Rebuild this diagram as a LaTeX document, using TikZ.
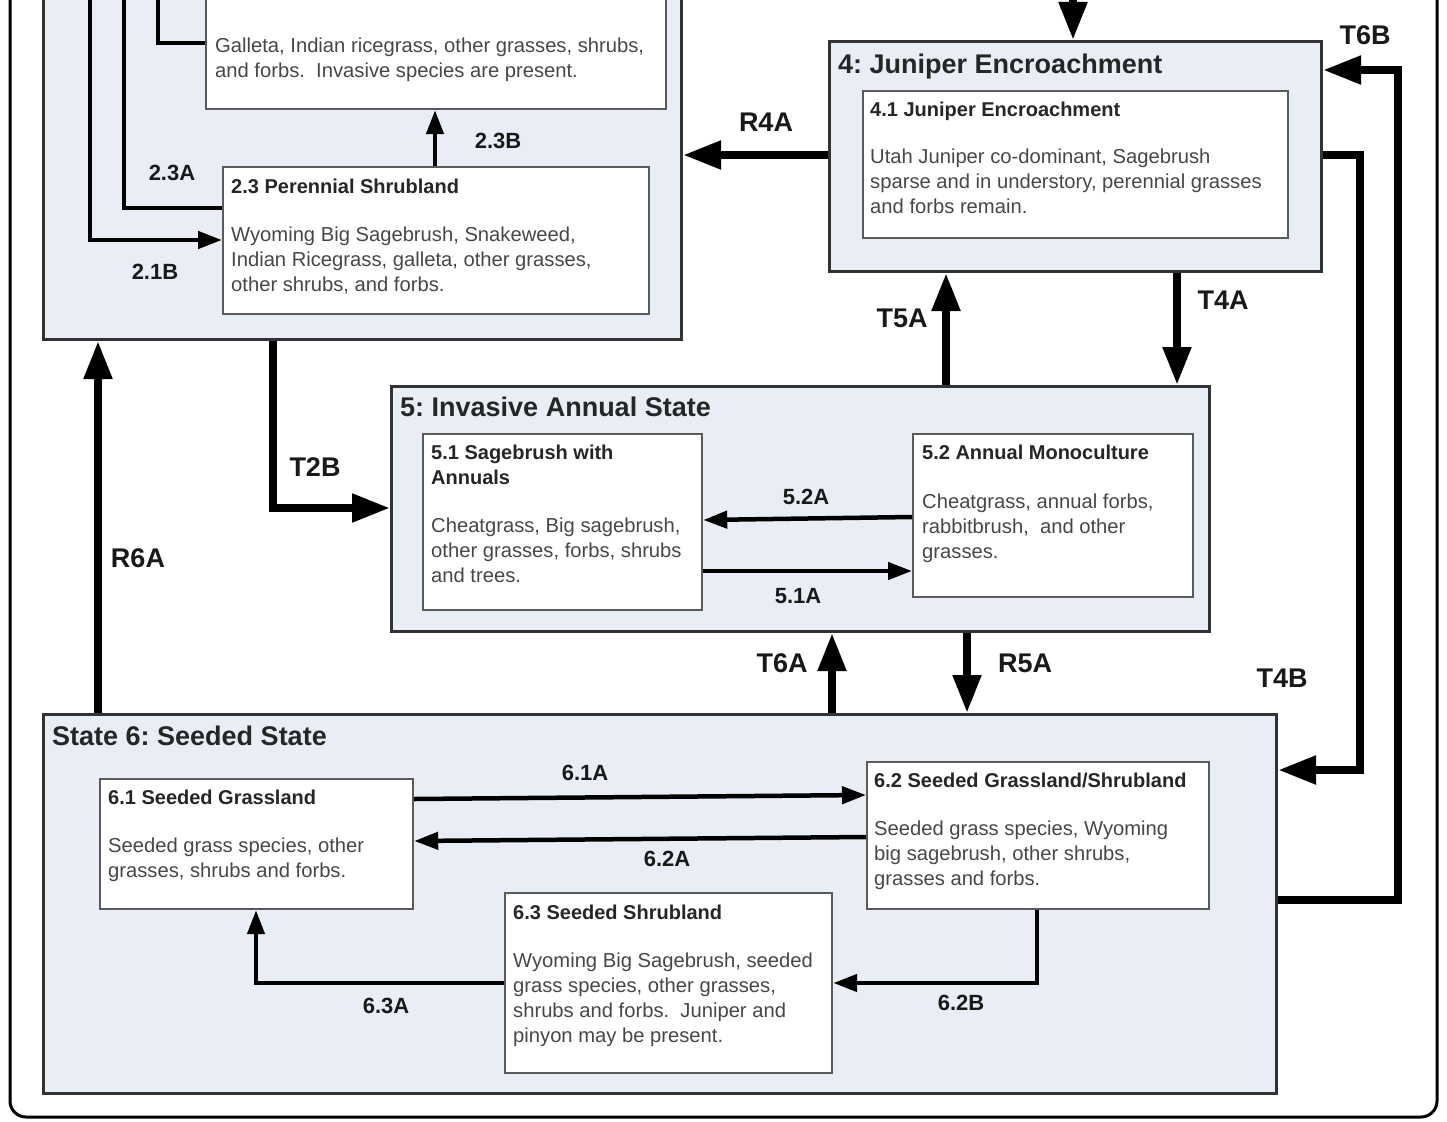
\documentclass[tikz,border=0pt]{standalone}
\usepackage{fontspec}
\setmainfont{Liberation Sans}
\usetikzlibrary{arrows.meta}
\definecolor{statefill}{HTML}{E9EEF6}
\definecolor{boxline}{HTML}{5A5A5A}
\definecolor{bodytext}{HTML}{474747}
\definecolor{titletext}{HTML}{262626}
\frenchspacing
\begin{document}
\begin{tikzpicture}[x=1pt,y=-1pt,
  statebox/.style={draw=black!80, line width=3pt, fill=statefill, inner sep=0, anchor=north west},
  itembox/.style={draw=boxline, line width=2.2pt, fill=white, inner sep=0, anchor=north west},
  heading/.style={anchor=north west, inner sep=0, text=titletext, font=\fontsize{27}{30}\selectfont\bfseries},
  boxtitle/.style={anchor=north west, inner sep=0, align=left, text=titletext, font=\fontsize{20}{25}\selectfont\bfseries},
  boxbody/.style={anchor=north west, inner sep=0, align=left, text=bodytext, font=\fontsize{20.2}{25}\selectfont},
  biglabel/.style={inner sep=0, text=black!90, font=\fontsize{27}{30}\selectfont\bfseries},
  smalllabel/.style={inner sep=0, text=black!90, font=\fontsize{22}{25}\selectfont\bfseries},
  bigarrow/.style={line width=8pt, -{Triangle[length=38pt,width=27pt]}},
  medarrow/.style={line width=4.5pt, -{Triangle[length=24pt,width=17pt]}},
  medline/.style={line width=4.5pt},
  frameline/.style={line width=3pt, rounded corners=16pt}
]
\useasboundingbox (0,0) rectangle (1447,1121);
\clip (0,0) rectangle (1447,1121);
\fill[white] (0,0) rectangle (1447,1121);

% outer frame
\coordinate (fa) at (10,-10);
\coordinate (fb) at (1437,-10);
\draw[frameline] (fa) -- (10,1117) -- (1437,1117) -- (fb);

% State 2 (partial)
\node[statebox, minimum width=638, minimum height=368] (s2) at (42,-30) {};
\node[itembox, minimum width=460, minimum height=138] (i2) at (205,-30) {};
\node[boxbody] (i2b) at (215,38) {Galleta, Indian ricegrass, other grasses, shrubs,\\and forbs.\ \ Invasive species are present.};
\node[itembox, minimum width=426, minimum height=147] (i23) at (222,166) {};
\node[boxtitle] (i23t) at (231,179) {2.3 Perennial Shrubland};
\node[boxbody] (i23b) at (231,227) {Wyoming Big Sagebrush, Snakeweed,\\Indian Ricegrass, galleta, other grasses,\\other shrubs, and forbs.};

% State 4
\node[statebox, minimum width=492, minimum height=230] (s4) at (828,40) {};
\node[heading] (s4h) at (838,54) {4: Juniper Encroachment};
\node[itembox, minimum width=425, minimum height=147] (i41) at (862,90) {};
\node[boxtitle] (i41t) at (870,102) {4.1 Juniper Encroachment};
\node[boxbody] (i41b) at (870,149) {Utah Juniper co-dominant, Sagebrush\\sparse and in understory, perennial grasses\\and forbs remain.};

% State 5
\node[statebox, minimum width=818, minimum height=245] (s5) at (390,385) {};
\node[heading] (s5h) at (400,397) {5: Invasive Annual State};
\node[itembox, minimum width=279, minimum height=176] (i51) at (422,433) {};
\node[boxtitle] (i51t) at (431,445) {5.1 Sagebrush with\\Annuals};
\node[boxbody] (i51b) at (431,518) {Cheatgrass, Big sagebrush,\\other grasses, forbs, shrubs\\and trees.};
\node[itembox, minimum width=280, minimum height=163] (i52) at (912,433) {};
\node[boxtitle] (i52t) at (922,445) {5.2 Annual Monoculture};
\node[boxbody] (i52b) at (922,494) {Cheatgrass, annual forbs,\\rabbitbrush,\ \ and other\\grasses.};

% State 6
\node[statebox, minimum width=1233, minimum height=379] (s6) at (42,713) {};
\node[heading] (s6h) at (52,726) {State 6: Seeded State};
\node[itembox, minimum width=313, minimum height=130] (i61) at (99,778) {};
\node[boxtitle] (i61t) at (108,790) {6.1 Seeded Grassland};
\node[boxbody] (i61b) at (108,838) {Seeded grass species, other\\grasses, shrubs and forbs.};
\node[itembox, minimum width=342, minimum height=147] (i62) at (866,761) {};
\node[boxtitle] (i62t) at (874,773) {6.2 Seeded Grassland/Shrubland};
\node[boxbody] (i62b) at (874,821) {Seeded grass species, Wyoming\\big sagebrush, other shrubs,\\grasses and forbs.};
\node[itembox, minimum width=327, minimum height=180] (i63) at (504,892) {};
\node[boxtitle] (i63t) at (513,905) {6.3 Seeded Shrubland};
\node[boxbody] (i63b) at (513,953) {Wyoming Big Sagebrush, seeded\\grass species, other grasses,\\shrubs and forbs.\ \ Juniper and\\pinyon may be present.};

% free ends at the top edge
\coordinate (topin) at (1073,-10);
\coordinate (c21) at (90,-10);
\coordinate (c23) at (124,-10);
\coordinate (cup) at (158,-10);

% big transitions
\draw[bigarrow] (topin) -- (s4.north -| 1073,0);
\draw[bigarrow] (s4.west |- 0,155) -- (s2.east |- 0,155);
\draw[bigarrow] (s6.east |- 0,900) -| (1398,70) -- (s4.east |- 0,70);
\draw[bigarrow] (s4.east |- 0,155) -| (1360,770) -- (s6.east |- 0,770);
\draw[bigarrow] (s4.south -| 1177,0) -- (s5.north -| 1177,0);
\draw[bigarrow] (s5.north -| 946,0) -- (s4.south -| 946,0);
\draw[bigarrow] (s2.south -| 273,0) |- (s5.west |- 0,508);
\draw[bigarrow] (s6.north -| 832,0) -- (s5.south -| 832,0);
\draw[bigarrow] (s5.south -| 967,0) -- (s6.north -| 967,0);
\draw[bigarrow] (s6.north -| 98,0) -- (s2.south -| 98,0);

% community pathways
\draw[medarrow] (i23.north -| 435,0) -- (i2.south -| 435,0);
\draw[medarrow] (c21) |- (i23.west |- 0,240);
\draw[medline] (i23.west |- 0,208) -| (c23);
\draw[medline] (i2.west |- 0,43) -| (cup);
\draw[medarrow] (i52.west |- 0,517) -- (i51.east |- 0,520);
\draw[medarrow] (i51.east |- 0,571) -- (i52.west |- 0,571);
\draw[medarrow] (i61.east |- 0,799) -- (i62.west |- 0,795);
\draw[medarrow] (i62.west |- 0,837) -- (i61.east |- 0,841);
\draw[medarrow] (i62.south -| 1037,0) |- (i63.east |- 0,983);
\draw[medarrow] (i63.west |- 0,983) -| (i61.south -| 256,0);

% labels
\node[biglabel] (lR4A) at (766,122) {R4A};
\node[biglabel] (lT6B) at (1365,35) {T6B};
\node[biglabel] (lT4B) at (1282,678) {T4B};
\node[biglabel] (lT4A) at (1223,300) {T4A};
\node[biglabel] (lT5A) at (902,318) {T5A};
\node[biglabel] (lT2B) at (315,467) {T2B};
\node[biglabel] (lT6A) at (782,663) {T6A};
\node[biglabel] (lR5A) at (1025,663) {R5A};
\node[biglabel] (lR6A) at (138,558) {R6A};
\node[smalllabel] (l23B) at (498,141) {2.3B};
\node[smalllabel] (l23A) at (172,173) {2.3A};
\node[smalllabel] (l21B) at (155,272) {2.1B};
\node[smalllabel] (l52A) at (806,497) {5.2A};
\node[smalllabel] (l51A) at (798,596) {5.1A};
\node[smalllabel] (l61A) at (585,773) {6.1A};
\node[smalllabel] (l62A) at (667,859) {6.2A};
\node[smalllabel] (l62B) at (961,1003) {6.2B};
\node[smalllabel] (l63A) at (386,1006) {6.3A};
\end{tikzpicture}
\end{document}
